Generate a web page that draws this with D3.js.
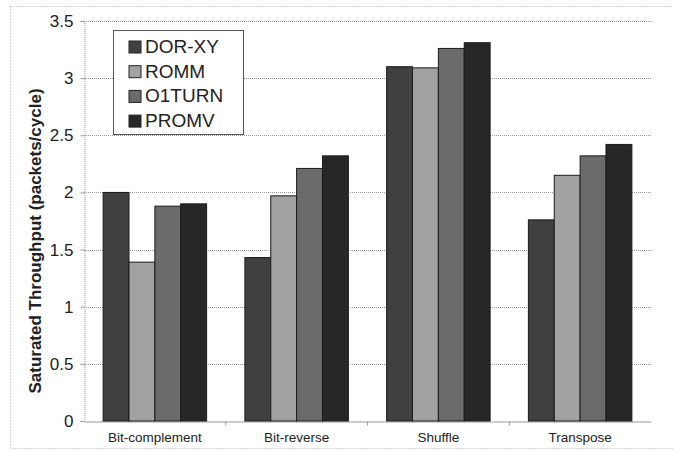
<!DOCTYPE html>
<html>
<head>
<meta charset="utf-8">
<script src="https://cdn.jsdelivr.net/npm/d3@7"></script>
<style>
  body { margin: 0; background: #fff; }
  text { font-family: Arial, "Liberation Sans", sans-serif; }
</style>
</head>
<body>
<div id="chart"></div>
<script>
const categories = ["Bit-complement", "Bit-reverse", "Shuffle", "Transpose"];
const seriesNames = ["DOR-XY", "ROMM", "O1TURN", "PROMV"];
const dorxy  = [2.00, 1.43, 3.10, 1.76];
const romm   = [1.39, 1.97, 3.09, 2.15];
const o1turn = [1.88, 2.21, 3.26, 2.32];
const promv  = [1.90, 2.32, 3.31, 2.42];
const yTicks = [0, 0.5, 1, 1.5, 2, 2.5, 3, 3.5];

const seriesValues = [dorxy, romm, o1turn, promv];
const colors = ["#404040", "#a2a2a2", "#6b6b6b", "#272727"];

const w = 673, h = 451;
const margin = {left: 84, right: 22, top: 21, bottom: 30};

let svg = d3.select("#chart").append("svg").attr("width", w).attr("height", h);

// outer dotted frame
svg.append("rect")
  .attr("x", 10.5).attr("y", 6.5)
  .attr("width", 670).attr("height", 442)
  .attr("fill", "none")
  .attr("stroke", "#aaa")
  .attr("stroke-dasharray", "1,2");

let x0 = d3.scaleBand().domain(categories)
  .range([margin.left, w - margin.right])
  .paddingInner(0.27).paddingOuter(0.135);
let x1 = d3.scaleBand().domain(seriesNames).range([0, x0.bandwidth()]);
let y = d3.scaleLinear().domain([0, 3.5]).range([h - margin.bottom, margin.top]);

// gridlines
svg.append("g").selectAll("line")
  .data(yTicks.filter(d => d > 0))
  .enter().append("line")
  .attr("x1", margin.left).attr("x2", w - margin.right)
  .attr("y1", d => Math.round(y(d)) + 0.5).attr("y2", d => Math.round(y(d)) + 0.5)
  .attr("stroke", "#999")
  .attr("stroke-dasharray", "1,1");

// y axis
let yAxis = d3.axisLeft(y).tickValues(yTicks).tickSize(4).tickFormat(d => d);
let gy = svg.append("g")
  .attr("transform", `translate(${margin.left + 0.5},0)`)
  .call(yAxis);
gy.select(".domain").attr("stroke", "#999").attr("stroke-dasharray", "1,1");
gy.selectAll(".tick line").attr("stroke", "#999");
gy.selectAll(".tick text")
  .attr("x", -11)
  .style("font-size", "17px")
  .style("font-family", "Arial, 'Liberation Sans', sans-serif")
  .attr("fill", "#222");

// x axis
let xAxis = d3.axisBottom(x0).tickSize(0).tickPadding(11);
let gx = svg.append("g")
  .attr("transform", `translate(0,${y(0) + 0.5})`)
  .call(xAxis);
gx.select(".domain").attr("stroke", "#999");
gx.selectAll(".tick text")
  .style("font-size", "13.5px")
  .style("font-family", "Arial, 'Liberation Sans', sans-serif")
  .attr("fill", "#222");
// category separator ticks
let sepX = categories.slice(1).map(c => x0(c) - (x0.step() - x0.bandwidth()) / 2);
gx.selectAll(".sep").data(sepX).enter().append("line")
  .attr("x1", d => d).attr("x2", d => d)
  .attr("y1", 0).attr("y2", 4)
  .attr("stroke", "#999");

// bars
let groups = svg.append("g").selectAll("g")
  .data(categories)
  .enter().append("g")
  .attr("transform", d => `translate(${x0(d)},0)`);

groups.selectAll("rect")
  .data((c, ci) => seriesNames.map((s, si) => ({series: s, value: seriesValues[si][ci], idx: si})))
  .enter().append("rect")
  .attr("x", d => x1(d.series))
  .attr("y", d => y(d.value))
  .attr("width", x1.bandwidth())
  .attr("height", d => y(0) - y(d.value))
  .attr("fill", d => colors[d.idx])
  .attr("stroke", "#1a1a1a")
  .attr("stroke-width", 1);

// y axis title
svg.append("text")
  .attr("transform", `translate(41,${(y(0) + y(3.5)) / 2 + 20}) rotate(-90)`)
  .attr("text-anchor", "middle")
  .style("font-size", "17px")
  .style("font-weight", "bold")
  .attr("fill", "#222")
  .text("Saturated Throughput (packets/cycle)");

// legend
let lg = svg.append("g").attr("transform", "translate(113,30)");
lg.append("rect")
  .attr("x", 0.5).attr("y", 0.5)
  .attr("width", 130).attr("height", 104)
  .attr("fill", "#fff")
  .attr("stroke", "#555");
let items = lg.selectAll(".legend")
  .data(seriesNames).enter()
  .append("g").attr("class", "legend")
  .attr("transform", (d, i) => `translate(0,${23 + i * 24.7})`);
items.append("rect")
  .attr("x", 16).attr("y", -12)
  .attr("width", 12).attr("height", 12)
  .attr("fill", (d, i) => colors[i])
  .attr("stroke", "#222");
items.append("text")
  .attr("x", 32).attr("y", 0)
  .style("font-size", "19px")
  .attr("fill", "#222")
  .text(d => d);
</script>
</body>
</html>
